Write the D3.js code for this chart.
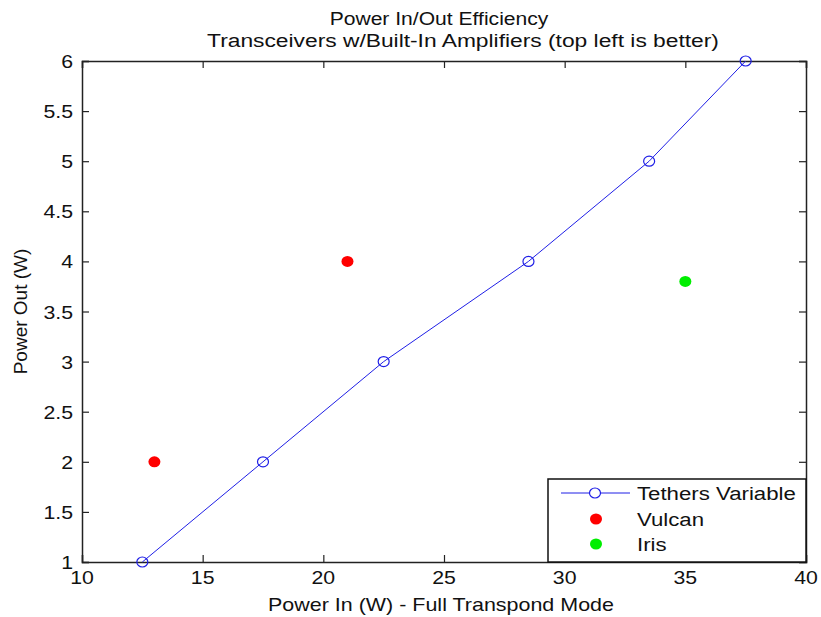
<!DOCTYPE html>
<html><head><meta charset="utf-8">
<script src="https://cdn.jsdelivr.net/npm/d3@7"></script>
<style>body{margin:0;background:#fff}svg{display:block}text{font-family:"Liberation Sans",Arial,sans-serif;fill:#111}</style>
</head><body>
<script>
const tethersIn = [12.5, 17.5, 22.5, 28.5, 33.5, 37.5];
const tethersOut = [1, 2, 3, 4, 5, 6];
const vulcanIn = [13, 21];
const vulcanOut = [2, 4];
const irisIn = [35];
const irisOut = [3.8];
const xTicks = [10, 15, 20, 25, 30, 35, 40];
const yTicks = [1, 1.5, 2, 2.5, 3, 3.5, 4, 4.5, 5, 5.5, 6];
const seriesNames = ["Tethers Variable", "Vulcan", "Iris"];
const titleLines = ["Power In/Out Efficiency", "Transceivers w/Built-In Amplifiers (top left is better)"];

const W = 821, H = 617;
const L = 82, R = 806, T = 61, B = 562;
const FS = 19;
const svg = d3.select("body").append("svg").attr("width", W).attr("height", H);
const x = d3.scaleLinear().domain([10, 40]).range([L, R]);
const y = d3.scaleLinear().domain([1, 6]).range([B, T]);

function txt(px, py, s, anchor, sx) {
  const g = svg.append("g").attr("transform", `translate(${px},${py}) scale(${sx || 1.12},1)`);
  g.append("text").attr("text-anchor", anchor || "middle").attr("font-size", FS).text(s);
  return g;
}

// axes (box with inward ticks on all sides)
const tl = 7;
const axB = svg.append("g").attr("transform", `translate(0,${B})`).call(d3.axisBottom(x).tickValues(xTicks).tickSize(-tl).tickFormat(""));
const axT = svg.append("g").attr("transform", `translate(0,${T})`).call(d3.axisTop(x).tickValues(xTicks).tickSize(-tl).tickFormat(""));
const axL = svg.append("g").attr("transform", `translate(${L},0)`).call(d3.axisLeft(y).tickValues(yTicks).tickSize(-tl).tickFormat(""));
const axR = svg.append("g").attr("transform", `translate(${R},0)`).call(d3.axisRight(y).tickValues(yTicks).tickSize(-tl).tickFormat(""));
[axB, axT, axL, axR].forEach(a => { a.selectAll("path,line").attr("stroke", "#222").attr("stroke-width", 1.2); a.select(".domain").attr("stroke-width", 1.5); });

xTicks.forEach(v => txt(x(v), 584, String(v), "middle"));
yTicks.forEach(v => txt(73, y(v) + 7, String(v), "end"));

// titles
txt(439, 25, titleLines[0], "middle", 1.11);
txt(463, 47, titleLines[1], "middle", 1.2);
txt(441, 611, "Power In (W) - Full Transpond Mode", "middle", 1.13);
svg.append("text").attr("font-size", FS).attr("text-anchor", "middle")
  .attr("transform", `translate(27,${(T + B) / 2}) rotate(-90)`).text("Power Out (W)");

// tethers line
const blue = "#1f1fe6";
const pts = tethersIn.map((v, i) => [v, tethersOut[i]]);
svg.append("path").datum(pts).attr("fill", "none").attr("stroke", blue).attr("stroke-width", 1)
  .attr("d", d3.line().x(d => x(d[0])).y(d => y(d[1])));
svg.selectAll(".tm").data(pts).join("ellipse").attr("cx", d => x(d[0])).attr("cy", d => y(d[1]))
  .attr("rx", 5.5).attr("ry", 5).attr("fill", "none").attr("stroke", blue).attr("stroke-width", 1.2);

svg.selectAll(".vm").data(vulcanIn.map((v, i) => [v, vulcanOut[i]])).join("ellipse")
  .attr("cx", d => x(d[0])).attr("cy", d => y(d[1])).attr("rx", 6).attr("ry", 5.5).attr("fill", "#ff0000");
svg.selectAll(".im").data(irisIn.map((v, i) => [v, irisOut[i]])).join("ellipse")
  .attr("cx", d => x(d[0])).attr("cy", d => y(d[1])).attr("rx", 6).attr("ry", 5.5).attr("fill", "#00ee00");

// legend
const lg = svg.append("g");
lg.append("rect").attr("x", 548).attr("y", 479).attr("width", 258).attr("height", 83)
  .attr("fill", "#fff").attr("stroke", "#111").attr("stroke-width", 1.5);
lg.append("line").attr("x1", 561).attr("x2", 630).attr("y1", 493).attr("y2", 493).attr("stroke", blue);
lg.append("ellipse").attr("cx", 595).attr("cy", 493).attr("rx", 5.5).attr("ry", 5).attr("fill", "#fff").attr("stroke", blue).attr("stroke-width", 1.2);
lg.append("ellipse").attr("cx", 596).attr("cy", 519).attr("rx", 6).attr("ry", 5.5).attr("fill", "#ff0000");
lg.append("ellipse").attr("cx", 596).attr("cy", 544).attr("rx", 6).attr("ry", 5.5).attr("fill", "#00ee00");
[493, 519, 544].forEach((yy, i) => txt(637, yy + 7, seriesNames[i], "start", 1.17));
</script>
</body></html>
